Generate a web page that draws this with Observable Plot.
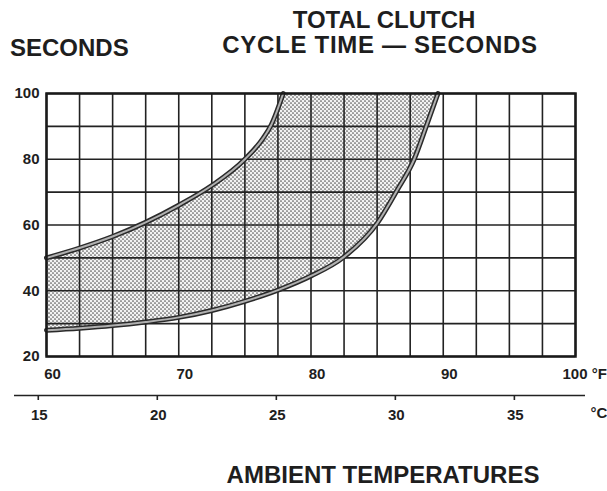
<!DOCTYPE html>
<html><head><meta charset="utf-8">
<script src="https://cdn.jsdelivr.net/npm/d3@7"></script>
<script src="https://cdn.jsdelivr.net/npm/@observablehq/plot@0.6"></script>
<style>
html,body{margin:0;padding:0;background:#fff;}
#wrap{position:relative;width:607px;height:491px;font-family:"Liberation Sans",Arial,sans-serif;font-weight:bold;color:#1e1e1e;}
.t{position:absolute;font-size:24px;line-height:24px;white-space:nowrap;}
</style></head><body><div id="wrap"></div>
<script>
// Upper (left) boundary curve: °F vs seconds
const upperF = [60, 62.5, 65, 67.5, 70, 72.5, 75, 76.4, 77.0, 77.9];
const upperS = [50, 53, 56.5, 60.8, 66, 72, 80, 86.5, 90.5, 100];
// Lower (right) boundary curve
const lowerF = [60, 62.5, 65, 67.5, 70, 72.5, 75, 77.5, 80, 82.5, 85, 86.5, 87.8, 88.8, 89.6];
const lowerS = [28, 28.6, 29.4, 30.5, 31.9, 34, 36.8, 40.2, 44.5, 50.3, 60.5, 70.5, 80, 91, 100];
// Axes
const yTicks = [20, 40, 60, 80, 100];
const fTicks = [60, 70, 80, 90, 100];
const fTickLabels = ["60", "70", "80", "90", "100 °F"];
const cTicks = [15, 20, 25, 30, 35];
const xDomain = [60, 100];
const yDomain = [20, 100];

const upper = upperF.map((f, i) => ({f, s: upperS[i]}));
const lower = lowerF.map((f, i) => ({f, s: lowerS[i]}));
const yMax = yDomain[1];
const toF = c => c * 9 / 5 + 32;
const curve = "monotone-x";
const ink = "#222";

const svg = Plot.plot({
  width: 607, height: 491,
  marginLeft: 46, marginRight: 32, marginTop: 93, marginBottom: 135,
  x: {domain: xDomain, axis: null}, y: {domain: yDomain, axis: null},
  style: {fontFamily: "'Liberation Sans', Arial, sans-serif", fontSize: "15px", fontWeight: "bold", color: "#1e1e1e", background: "transparent"},
  marks: [
    Plot.areaY(lower, {x: "f", y1: "s", y2: () => yMax, fill: "url(#stip)", curve}),
    Plot.areaY(upper, {x: "f", y1: "s", y2: () => yMax, fill: "white", curve}),
    Plot.ruleX(d3.range(60, 100.01, 2.5), {stroke: ink, strokeWidth: 1.6}),
    Plot.ruleY(d3.range(20, 100.01, 10), {stroke: ink, strokeWidth: 1.6}),
    Plot.line(upper, {x: "f", y: "s", stroke: "#2a2a2a", strokeWidth: 5, curve}),
    Plot.line(upper, {x: "f", y: "s", stroke: "#b0b0b0", strokeWidth: 2, curve}),
    Plot.line(lower, {x: "f", y: "s", stroke: "#2a2a2a", strokeWidth: 5, curve}),
    Plot.line(lower, {x: "f", y: "s", stroke: "#b0b0b0", strokeWidth: 2, curve}),
    Plot.frame({stroke: "#1a1a1a", strokeWidth: 2.5}),
    Plot.text(yTicks, {y: d => d, frameAnchor: "left", textAnchor: "end", dx: -7, text: d => String(d)}),
    Plot.text(fTicks.slice(0, 4), {x: d => d, frameAnchor: "bottom", lineAnchor: "top", dy: 12, dx: 6, text: (d, i) => fTickLabels[i]}),
    Plot.text(fTicks.slice(4), {x: d => d, frameAnchor: "bottom", lineAnchor: "top", dy: 12, dx: -13, textAnchor: "start", text: () => fTickLabels[4]}),
    Plot.ruleY([yDomain[0]], {dy: 39, insetLeft: -32, insetRight: -10, stroke: ink, strokeWidth: 1.6}),
    Plot.ruleX(cTicks, {x: toF, y1: () => yDomain[0], y2: () => yDomain[0], dy: 39, dx: 5, insetBottom: -5, stroke: ink, strokeWidth: 1.6}),
    Plot.text(cTicks, {x: toF, frameAnchor: "bottom", lineAnchor: "top", dy: 53, dx: 6, text: d => String(d)}),
    Plot.text(["°C"], {frameAnchor: "bottom-right", textAnchor: "start", lineAnchor: "top", dx: 15, dy: 51, text: d => d})
  ]
});
svg.insertAdjacentHTML("afterbegin",
  `<defs><pattern id="stip" width="4" height="4" patternUnits="userSpaceOnUse">
     <rect width="4" height="4" fill="#f2f2f2"/>
     <circle cx="1" cy="1" r="0.85" fill="#555"/>
     <circle cx="3" cy="3" r="0.85" fill="#555"/>
   </pattern></defs>`);
const wrap = document.getElementById("wrap");
wrap.appendChild(svg);
svg.style.position = "absolute"; svg.style.left = "0"; svg.style.top = "0";
const titles = [
  {text: "TOTAL CLUTCH", top: 8, center: 384, ls: 0},
  {text: "CYCLE TIME — SECONDS", top: 33, center: 380, ls: 0.7},
  {text: "SECONDS", top: 36, left: 10, ls: 0},
  {text: "AMBIENT TEMPERATURES", top: 463, center: 383, ls: 0}
];
for (const t of titles) {
  const d = document.createElement("div");
  d.className = "t";
  d.textContent = t.text;
  d.style.top = t.top + "px";
  d.style.letterSpacing = t.ls + "px";
  if (t.left != null) d.style.left = t.left + "px";
  else { d.style.left = t.center + "px"; d.style.transform = "translateX(-50%)"; }
  wrap.appendChild(d);
}
</script></body></html>
